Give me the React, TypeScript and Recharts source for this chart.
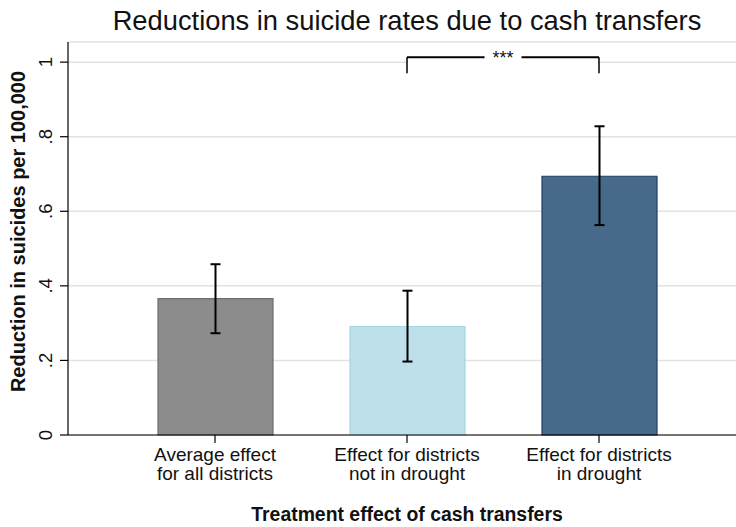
import React from "react";
import { BarChart, Bar, XAxis, YAxis, CartesianGrid, ErrorBar, Cell, ReferenceLine } from "recharts";

const categories = [
  "Average effect\nfor all districts",
  "Effect for districts\nnot in drought",
  "Effect for districts\nin drought",
];
const effects = [0.366, 0.291, 0.694];
const ciLow = [0.273, 0.197, 0.563];
const ciHigh = [0.458, 0.387, 0.828];
const yTicks = [0, 0.2, 0.4, 0.6, 0.8, 1];
const yTickLabels = ["0", ".2", ".4", ".6", ".8", "1"];
const barFills = ["#8c8c8c", "#bee0ea", "#476a8a"];
const barStrokes = ["#6e6e6e", "#a8d4e3", "#1f4064"];
const bracketY = 1.013;
const bracketDrop = 0.97;
const sigLabel = "***";
const title = "Reductions in suicide rates due to cash transfers";
const xTitle = "Treatment effect of cash transfers";
const yTitle = "Reduction in suicides per 100,000";

const data = categories.map((c, i) => ({
  category: c,
  effect: effects[i],
  err: [effects[i] - ciLow[i], ciHigh[i] - effects[i]],
}));

const FONT = "'Liberation Sans', Arial, Helvetica, sans-serif";

function XTick(props: any) {
  const { x, y, payload } = props;
  const lines = String(payload.value).split("\n");
  return (
    <g>
      {lines.map((l: string, i: number) => (
        <text key={i} x={x} y={y + 17.7 + i * 19.3} textAnchor="middle" fontFamily={FONT} fontSize={19} fill="#111">
          {l}
        </text>
      ))}
    </g>
  );
}

function YTick(props: any) {
  const { x, y, payload } = props;
  const idx = yTicks.indexOf(payload.value);
  const label = idx >= 0 ? yTickLabels[idx] : String(payload.value);
  const bx = x - 8;
  return (
    <text x={bx} y={y} transform={`rotate(-90, ${bx}, ${y})`} textAnchor="middle" fontFamily={FONT} fontSize={18.5} fill="#111">
      {label}
    </text>
  );
}

function BracketLabel(props: any) {
  const vb = props.viewBox || {};
  const x = vb.x ?? 0;
  const y = vb.y ?? 0;
  const w = vb.width ?? 0;
  const cx = x + w / 2;
  return (
    <g>
      <rect x={x + 1} y={y + 1.2} width={Math.max(0, w - 2)} height={10} fill="#ffffff" />
      <rect x={cx - 18.5} y={y - 3} width={37} height={6} fill="#ffffff" />
      <text x={cx} y={y + 6.3} textAnchor="middle" fontFamily={FONT} fontSize={18} fill="#111">
        {sigLabel}
      </text>
    </g>
  );
}

export default function App() {
  return (
    <div style={{ position: "absolute", left: 0, top: 0, width: 736, height: 527, background: "#fff" }}>
      <BarChart width={736} height={527} data={data} margin={{ top: 42, right: 0, left: 0, bottom: 0 }}>
        <CartesianGrid vertical={false} stroke="#e2e2e2" strokeWidth={1.5} />
        <XAxis
          dataKey="category"
          height={92}
          padding={{ left: 51, right: 41 }}
          axisLine={{ stroke: "#000", strokeWidth: 1.2 }}
          tickLine={{ stroke: "#000", strokeWidth: 1.2 }}
          tickSize={8}
          tickMargin={0}
          interval={0}
          tick={<XTick />}
        />
        <YAxis
          type="number"
          domain={[0, 1.054]}
          ticks={yTicks}
          interval={0}
          width={68}
          axisLine={{ stroke: "#000", strokeWidth: 1.2 }}
          tickLine={{ stroke: "#000", strokeWidth: 1.2 }}
          tickSize={8}
          tickMargin={0}
          tick={<YTick />}
        />
        <Bar dataKey="effect" barSize={115} isAnimationActive={false} strokeWidth={1.2}>
          {data.map((d, i) => (
            <Cell key={d.category} fill={barFills[i]} stroke={barStrokes[i]} />
          ))}
          <ErrorBar dataKey="err" direction="y" width={5} stroke="#000" strokeWidth={2} isAnimationActive={false} />
        </Bar>
        <ReferenceLine
          segment={[
            { x: categories[1], y: bracketY },
            { x: categories[2], y: bracketY },
          ]}
          stroke="#000"
          strokeWidth={2.2}
          label={<BracketLabel />}
        />
        <ReferenceLine
          segment={[
            { x: categories[1], y: bracketY },
            { x: categories[1], y: bracketDrop },
          ]}
          stroke="#000"
          strokeWidth={1.5}
        />
        <ReferenceLine
          segment={[
            { x: categories[2], y: bracketY },
            { x: categories[2], y: bracketDrop },
          ]}
          stroke="#000"
          strokeWidth={1.5}
        />
        <text x={407} y={30} textAnchor="middle" fontFamily={FONT} fontSize={27.3} fill="#111">
          {title}
        </text>
        <text x={407} y={521} textAnchor="middle" fontFamily={FONT} fontSize={19.4} fontWeight="bold" fill="#111">
          {xTitle}
        </text>
        <text
          x={25}
          y={231.5}
          transform="rotate(-90, 25, 231.5)"
          textAnchor="middle"
          fontFamily={FONT}
          fontSize={20}
          fontWeight="bold"
          fill="#111"
        >
          {yTitle}
        </text>
      </BarChart>
    </div>
  );
}
